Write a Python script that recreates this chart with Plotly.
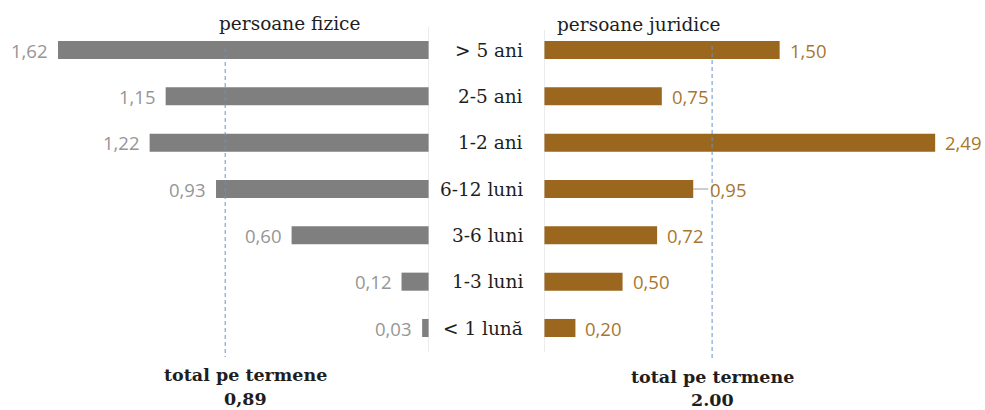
import plotly.graph_objects as go

# ---- data ----
categories = ["> 5 ani", "2-5 ani", "1-2 ani", "6-12 luni", "3-6 luni", "1-3 luni", "< 1 lună"]
fizice = [1.62, 1.15, 1.22, 0.93, 0.60, 0.12, 0.03]
juridice = [1.50, 0.75, 2.49, 0.95, 0.72, 0.50, 0.20]
panel_titles = ["persoane fizice", "persoane juridice"]
total_label = "total pe termene"
total_fizice_text = "0,89"
total_juridice_text = "2.00"
total_fizice_pos = 0.89      # dashed marker position, left panel
total_juridice_pos = 1.07    # dashed marker position as drawn in the picture, right panel
leader_cats = ["6-12 luni"]

W, H = 985, 410
GREY_BAR = "#7f7f7f"
GREY_TXT = "#969696"
BROWN_BAR = "#9b661d"
BROWN_TXT = "#a7772f"
BLUE = "#6594cc"
DARK = "#1e1e1e"
SERIF = "DejaVu Serif"
SANS = "Open Sans"

def fmt(v):
    return f"{v:.2f}".replace(".", ",")

fig = go.Figure()
fig.add_trace(go.Bar(x=fizice, y=categories, orientation="h", xaxis="x", yaxis="y",
                     marker=dict(color=GREY_BAR, line=dict(width=0)), width=0.39,
                     hoverinfo="skip"))
fig.add_trace(go.Bar(x=juridice, y=categories, orientation="h", xaxis="x2", yaxis="y",
                     marker=dict(color=BROWN_BAR, line=dict(width=0)), width=0.39,
                     hoverinfo="skip"))

left_px0 = 429
right_px0 = 544
annotations = []
for c, v in zip(categories, fizice):
    annotations.append(dict(x=v, y=c, xref="x", yref="y", text=fmt(v), showarrow=False,
                            xanchor="right", xshift=-8,
                            font=dict(family=SANS, size=18.5, color=GREY_TXT)))
for c, v in zip(categories, juridice):
    if c in leader_cats:
        annotations.append(dict(x=v, y=c, xref="x2", yref="y", text=fmt(v), showarrow=True,
                                arrowhead=0, arrowwidth=1, arrowcolor="#9a9a9a", ax=15, ay=0,
                                standoff=0, xanchor="left",
                                font=dict(family=SANS, size=18.5, color=BROWN_TXT)))
    else:
        annotations.append(dict(x=v, y=c, xref="x2", yref="y", text=fmt(v), showarrow=False,
                                xanchor="left", xshift=8,
                                font=dict(family=SANS, size=18.5, color=BROWN_TXT)))
# centre category labels
for c in categories:
    annotations.append(dict(x=525 / W, y=c, xref="paper", yref="y", text=c, showarrow=False,
                            xanchor="right", font=dict(family=SERIF, size=18.5, color=DARK)))
# panel titles
annotations.append(dict(x=289 / W, y=1 - 23 / H, xref="paper", yref="paper", text=panel_titles[0],
                        showarrow=False, xanchor="center", yanchor="middle",
                        font=dict(family=SERIF, size=18.5, color=DARK)))
annotations.append(dict(x=639 / W, y=1 - 24 / H, xref="paper", yref="paper", text=panel_titles[1],
                        showarrow=False, xanchor="center", yanchor="middle",
                        font=dict(family=SERIF, size=18.5, color=DARK)))
# totals
for xc, y1, y2, t in [(245, 375, 399, total_fizice_text), (712, 377, 400, total_juridice_text)]:
    annotations.append(dict(x=xc / W, y=1 - y1 / H, xref="paper", yref="paper", text=f"<b>{total_label}</b>",
                            showarrow=False, xanchor="center", yanchor="middle",
                            font=dict(family=SERIF, size=17.5, color=DARK)))
    annotations.append(dict(x=xc / W, y=1 - y2 / H, xref="paper", yref="paper", text=f"<b>{t}</b>",
                            showarrow=False, xanchor="center", yanchor="middle",
                            font=dict(family=SERIF, size=17.5, color=DARK)))

shapes = [
    dict(type="line", xref="x", yref="paper", x0=0, x1=0, y0=1 - 27 / H, y1=1 - 352 / H,
         line=dict(color="#d9d9d9", width=1)),
    dict(type="line", xref="x2", yref="paper", x0=0, x1=0, y0=1 - 30 / H, y1=1 - 352 / H,
         line=dict(color="#d9d9d9", width=1)),
    dict(type="line", xref="x", yref="paper", x0=total_fizice_pos, x1=total_fizice_pos,
         y0=1 - 48 / H, y1=1 - 357 / H, line=dict(color=BLUE, width=1, dash="4px,3px")),
    dict(type="line", xref="x2", yref="paper", x0=total_juridice_pos, x1=total_juridice_pos,
         y0=1 - 46 / H, y1=1 - 358 / H, line=dict(color=BLUE, width=1, dash="4px,3px")),
]

left_scale = 229.0   # px per unit
right_scale = 157.1
fig.update_layout(
    width=W, height=H, margin=dict(l=0, r=0, t=0, b=0),
    paper_bgcolor="white", plot_bgcolor="white", showlegend=False,
    xaxis=dict(domain=[0, left_px0 / W], range=[left_px0 / left_scale, 0], visible=False, fixedrange=True),
    xaxis2=dict(domain=[right_px0 / W, 1], range=[0, (W - right_px0) / right_scale], visible=False,
                anchor="y", fixedrange=True),
    yaxis=dict(type="category", categoryorder="array", categoryarray=categories,
               range=[6 + 82 / 46.33, -50 / 46.33], visible=False, fixedrange=True),
    annotations=annotations, shapes=shapes,
)
fig.write_html("out.html", config={"displayModeBar": False},
               post_script="document.body.style.margin='0';document.body.style.overflow='hidden';")
